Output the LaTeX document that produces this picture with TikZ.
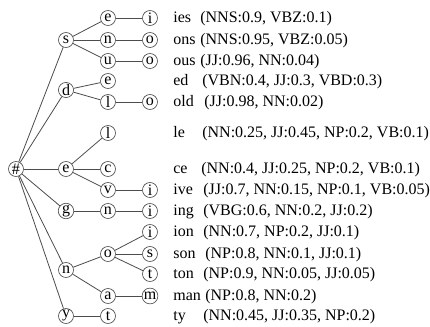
\documentclass[tikz,border=0pt]{standalone}
\usepackage{fontspec}
\setmainfont{Liberation Serif}

\begin{document}
\begin{tikzpicture}[x=0.625pt,y=-0.625pt,
    every node/.style={font=\fontsize{10}{12}\selectfont},
    letter/.style={circle,draw=black!70,inner sep=0.3pt,minimum size=9.4pt},
    edge/.style={draw=black!70,line width=0.5pt},
    row/.style={anchor=base west,inner sep=0pt}]
  \useasboundingbox (0,0) rectangle (430,327);

  %==================== Trie nodes ====================
  % Root
  \node[letter] (r) at (16,169) {\#};

  % First letters (read from the end of the word)
  \foreach \n/\l/\y in {s/s/40,d/d/90,e/e/169,g/g/211,n/n/270,y/y/316} {
    \node[letter] (\n1) at (66,\y) {\l};
  }

  % Second letters
  \foreach \n/\l/\y in {se/e/18,sn/n/40,su/u/61,de/e/81,dl/l/102,el/l/133,
      ec/c/169,ev/v/190,gn/n/211,no/o/254,na/a/296,yt/t/316} {
    \node[letter] (\n) at (108,\y) {\l};
  }

  % Third letters
  \foreach \n/\l/\y in {sei/i/18,sno/o/40,suo/o/61,dlo/o/102,evi/i/190,
      gni/i/211,noi/i/232,nos/s/254,not/t/274,nam/m/296} {
    \node[letter] (\n) at (150,\y) {\l};
  }

  % Edges of the trie
  \foreach \a/\b in {r/s1,r/d1,r/e1,r/g1,r/n1,r/y1,
      s1/se,s1/sn,s1/su,se/sei,sn/sno,su/suo,
      d1/de,d1/dl,dl/dlo,
      e1/el,e1/ec,e1/ev,ev/evi,
      g1/gn,gn/gni,
      n1/no,n1/na,no/noi,no/nos,no/not,na/nam,
      y1/yt} {
    \draw[edge] (\a) -- (\b);
  }

  %==================== Suffixes and tag distributions ====================
  \foreach \y/\x/\suf/\tag in {18/200/ies/{(NNS:0.9, VBZ:0.1)},
      40/200/ons/{(NNS:0.95, VBZ:0.05)},
      61/200/ous/{(JJ:0.96, NN:0.04)},
      81/202/ed/{(VBN:0.4, JJ:0.3, VBD:0.3)},
      102/204/old/{(JJ:0.98, NN:0.02)},
      133/202/le/{(NN:0.25, JJ:0.45, NP:0.2, VB:0.1)},
      169/201/ce/{(NN:0.4, JJ:0.25, NP:0.2, VB:0.1)},
      190/203/ive/{(JJ:0.7, NN:0.15, NP:0.1, VB:0.05)},
      211/203/ing/{(VBG:0.6, NN:0.2, JJ:0.2)},
      232/203/ion/{(NN:0.7, NP:0.2, JJ:0.1)},
      254/205/son/{(NP:0.8, NN:0.1, JJ:0.1)},
      274/203/ton/{(NP:0.9, NN:0.05, JJ:0.05)},
      296/205/man/{(NP:0.8, NN:0.2)},
      316/203/ty/{(NN:0.45, JJ:0.35, NP:0.2)}} {
    \node[row] (suf\y) at (173,\y+5) {\suf};
    \node[row] (tag\y) at (\x,\y+5) {\tag};
  }

\end{tikzpicture}
\end{document}
